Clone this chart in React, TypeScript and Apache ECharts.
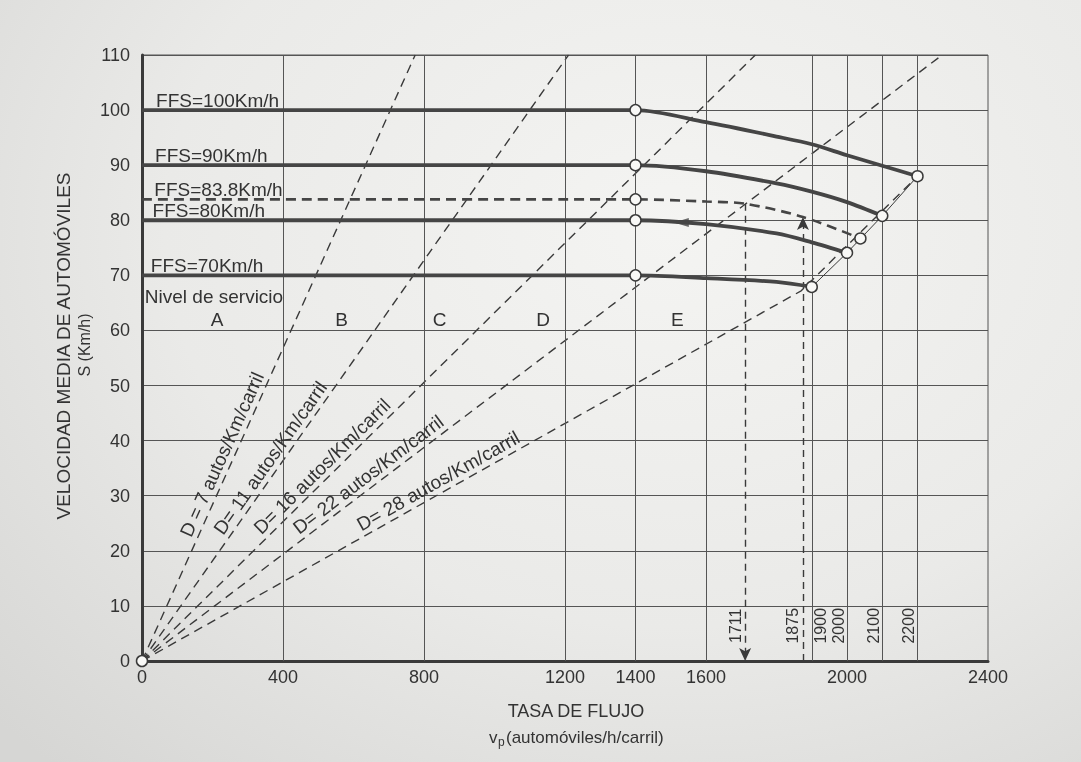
import React, { useEffect, useRef } from 'react';
import * as echarts from 'echarts';

// ---- axis ticks / grid positions ----
const xTickLabels = [0, 400, 800, 1200, 1400, 1600, 2000, 2400];
const xGridLines = [400, 800, 1200, 1400, 1600, 1900, 2000, 2100, 2200];

// ---- speed-flow curves (flow, speed) ----
const ffs100 = [[0, 100], [1400, 100], [1600, 97.8], [1800, 95.2], [1900, 93.8], [2000, 91.8], [2100, 89.9], [2200, 88]];
const ffs90 = [[0, 90], [1400, 90], [1600, 88.9], [1800, 86.7], [1900, 85.2], [2000, 83.3], [2100, 80.8]];
const ffs838 = [[0, 83.8], [1400, 83.8], [1600, 83.4], [1711, 83.0], [1875, 80.6], [2038, 76.7]];
const ffs80 = [[0, 80], [1400, 80], [1600, 79.3], [1800, 77.6], [1900, 76.0], [2000, 74.1]];
const ffs70 = [[0, 70], [1400, 70], [1600, 69.5], [1800, 68.8], [1900, 67.9]];

// ---- density lines ----
const d7 = [[0, 0], [775, 110]];
const d11 = [[0, 0], [1210, 110]];
const d16 = [[0, 0], [1740, 110]];
const d22 = [[0, 0], [2270, 110]];
const d28 = [[0, 0], [1870, 67.2], [2200, 88]];
const capacityLine = [[1900, 67.9], [2000, 74.1], [2100, 80.8], [2200, 88]];

// ---- breakpoints (open circles) ----
const nodes = [[0, 0], [1400, 100], [1400, 90], [1400, 83.8], [1400, 80], [1400, 70], [2200, 88], [2100, 80.8], [2038, 76.7], [2000, 74.1], [1900, 67.9]];

// ---- annotations ----
const arrow1711 = [[1711, 83.0], [1711, 0]];
const arrow1875 = [[1875, 0], [1875, 80.6]];
const arrowOnFfs80 = [[1530, 79.6]];

const ffsLabels = [
  { text: 'FFS=100Km/h', x: 40, y: 100 },
  { text: 'FFS=90Km/h', x: 37, y: 90 },
  { text: 'FFS=83.8Km/h', x: 35, y: 83.9 },
  { text: 'FFS=80Km/h', x: 30, y: 80 },
  { text: 'FFS=70Km/h', x: 25, y: 70 },
  { text: 'Nivel de servicio', x: 8, y: 64.4 },
];
const losLetters = [
  { text: 'A', x: 213 }, { text: 'B', x: 566 }, { text: 'C', x: 844 }, { text: 'D', x: 1138 }, { text: 'E', x: 1519 },
];
const losLetterSpeed = 62;
const densityLabels = [
  { text: 'D = 7 autos/Km/carril', line: d7, s: 36.6 },
  { text: 'D= 11 autos/Km/carril', line: d11, s: 35.6 },
  { text: 'D= 16 autos/Km/carril', line: d16, s: 33.8 },
  { text: 'D= 22 autos/Km/carril', line: d22, s: 32.1 },
  { text: 'D= 28 autos/Km/carril', line: d28, s: 30.8 },
];
const flowValueLabels = [
  { text: '1711', v: 1711, dx: -10 },
  { text: '1875', v: 1875, dx: -10 },
  { text: '1900', v: 1900, dx: 9 },
  { text: '2000', v: 2000, dx: -9 },
  { text: '2100', v: 2100, dx: -9 },
  { text: '2200', v: 2200, dx: -9 },
];

export default function App() {
  const ref = useRef<HTMLDivElement>(null);
  useEffect(() => {
    document.body.style.margin = '0';
    const chart = echarts.init(ref.current!, null, { renderer: 'svg' });
    const FONT = '"Liberation Sans", Arial, Helvetica, sans-serif';
    const INK = '#333';
    const LINE = '#454545';

    const heavy = (name: string, data: number[][]) => ({
      type: 'line', name, data, smooth: 0.3, symbol: 'none', silent: true,
      lineStyle: { color: LINE, width: 3.8 }, z: 5,
    });
    const dashed = (name: string, data: number[][]) => ({
      type: 'line', name, data, symbol: 'none', silent: true,
      lineStyle: { color: '#3a3a3a', width: 1.4, type: [9, 6] }, z: 3,
    });

    chart.setOption({
      animation: false,
      backgroundColor: 'transparent',
      grid: { left: 142, right: 93, top: 55, bottom: 101, show: true, borderColor: '#555', borderWidth: 1 },
      xAxis: {
        type: 'value', min: 0, max: 2400, interval: 100,
        axisLine: { show: true, onZero: false, lineStyle: { color: '#3a3a3a', width: 3 } },
        axisTick: { show: false },
        splitLine: { show: false },
        axisLabel: {
          formatter: (v: number) => (xTickLabels.indexOf(v) >= 0 ? String(v) : ''),
          fontSize: 18, color: INK, margin: 7, fontFamily: FONT,
        },
      },
      yAxis: {
        type: 'value', min: 0, max: 110, interval: 10,
        axisLine: { show: true, onZero: false, lineStyle: { color: '#3a3a3a', width: 3 } },
        axisTick: { show: false },
        splitLine: { show: true, lineStyle: { color: '#555', width: 1 } },
        axisLabel: { fontSize: 18, color: INK, margin: 12, fontFamily: FONT },
      },
      series: [
        {
          type: 'line', name: 'grid', data: [], silent: true,
          markLine: {
            silent: true, symbol: ['none', 'none'], label: { show: false },
            lineStyle: { color: '#555', width: 1, type: 'solid' },
            data: xGridLines.map((v) => ({ xAxis: v })),
          },
        },
        dashed('D7', d7), dashed('D11', d11), dashed('D16', d16), dashed('D22', d22), dashed('D28', d28),
        {
          type: 'line', name: 'capacidad', data: capacityLine, symbol: 'none', silent: true,
          lineStyle: { color: '#3a3a3a', width: 1 }, z: 4,
        },
        heavy('FFS100', ffs100), heavy('FFS90', ffs90), heavy('FFS80', ffs80), heavy('FFS70', ffs70),
        {
          type: 'line', name: 'FFS83.8', data: ffs838, smooth: 0.3, symbol: 'none', silent: true,
          lineStyle: { color: LINE, width: 2.6, type: [10, 6] }, z: 5,
        },
        {
          type: 'line', name: 'annot', data: [], silent: true,
          markLine: {
            silent: true, symbol: ['none', 'arrow'], symbolSize: [9, 13], label: { show: false },
            lineStyle: { color: '#3a3a3a', width: 1.4, type: [7, 5] },
            data: [
              [{ coord: arrow1711[0] }, { coord: arrow1711[1] }],
              [{ coord: arrow1875[0] }, { coord: arrow1875[1] }],
            ],
          },
        },
        {
          type: 'scatter', name: 'flecha', data: arrowOnFfs80, symbol: 'triangle', symbolRotate: 90,
          symbolSize: [9, 15], itemStyle: { color: LINE }, silent: true, z: 8,
        },
        {
          type: 'scatter', name: 'nodos', data: nodes, symbol: 'circle', symbolSize: 11, silent: true,
          itemStyle: { color: '#f8f8f6', borderColor: '#3a3a3a', borderWidth: 1.5, opacity: 1 }, z: 10,
        },
      ],
    });

    const P = (x: number, y: number) => chart.convertToPixel({ gridIndex: 0 }, [x, y]) as number[];
    const graphics: any[] = [];
    const txt = (text: string, x: number, y: number, size: number, align: string, valign: string, rotation = 0) => ({
      type: 'text', x, y, rotation, z: 100, silent: true,
      style: { text, fontSize: size, fontFamily: FONT, fill: INK, textAlign: align, textVerticalAlign: valign },
    });

    ffsLabels.forEach((l) => {
      const p = P(l.x, l.y);
      graphics.push(txt(l.text, p[0], p[1], 19, 'left', 'bottom'));
    });
    losLetters.forEach((l) => {
      const p = P(l.x, losLetterSpeed);
      graphics.push(txt(l.text, p[0], p[1], 19, 'center', 'middle'));
    });
    densityLabels.forEach((l) => {
      const end = l.line[1];
      const flow = (l.s * end[0]) / end[1];
      const a = P(flow, l.s);
      const p0 = P(0, 0);
      const p1 = P(end[0], end[1]);
      const th = Math.atan2(p0[1] - p1[1], p1[0] - p0[0]);
      const off = 12;
      const cx = a[0] - Math.sin(th) * off;
      const cy = a[1] - Math.cos(th) * off;
      graphics.push(txt(l.text, cx, cy, 19, 'center', 'middle', th));
    });
    flowValueLabels.forEach((l) => {
      const p = P(l.v, 6.4);
      graphics.push(txt(l.text, p[0] + l.dx, p[1], 16, 'center', 'middle', Math.PI / 2));
    });
    // axis titles
    graphics.push(txt('VELOCIDAD MEDIA DE AUTOMÓVILES', 63, 346, 19, 'center', 'middle', Math.PI / 2));
    graphics.push(txt('S (Km/h)', 84, 345, 16, 'center', 'middle', Math.PI / 2));
    graphics.push(txt('TASA DE FLUJO', 576, 711, 18, 'center', 'middle'));
    graphics.push(txt('v', 489, 737, 17, 'left', 'middle'));
    graphics.push(txt('p', 498, 742, 12, 'left', 'middle'));
    graphics.push(txt('(automóviles/h/carril)', 506, 737, 17, 'left', 'middle'));

    chart.setOption({ graphic: graphics });

    return () => chart.dispose();
  }, []);

  return (
    <div
      ref={ref}
      style={{
        position: 'fixed', left: 0, top: 0, width: 1081, height: 762,
        background: 'radial-gradient(ellipse 85% 95% at 62% 30%, #f4f4f2 0%, #eaeae8 55%, #d6d6d4 100%)',
      }}
    />
  );
}
